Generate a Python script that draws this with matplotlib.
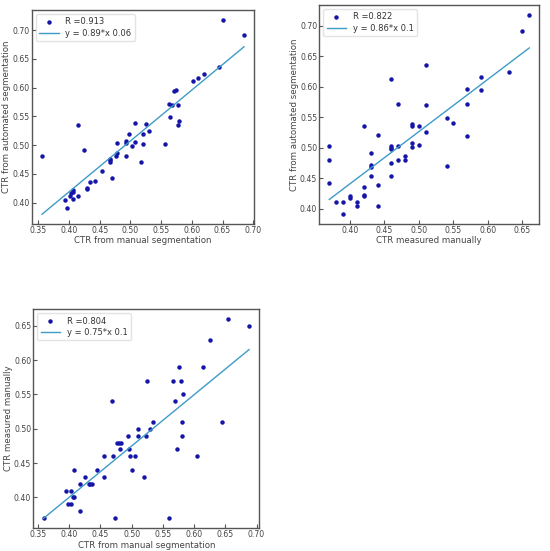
import numpy as np
import matplotlib
matplotlib.use("Agg")
import matplotlib.pyplot as plt

# Panel 1: manual segmentation (x) vs automated segmentation (y)
p1_x = [0.356, 0.393, 0.396, 0.401, 0.404, 0.406, 0.407, 0.406, 0.415, 0.415,
        0.424, 0.430, 0.430, 0.434, 0.443, 0.454, 0.466, 0.466, 0.467, 0.470,
        0.476, 0.478, 0.478, 0.492, 0.493, 0.493, 0.497, 0.503, 0.508, 0.508,
        0.517, 0.520, 0.521, 0.526, 0.530, 0.556, 0.563, 0.565, 0.568, 0.571,
        0.574, 0.578, 0.578, 0.579, 0.602, 0.610, 0.620, 0.644, 0.651, 0.685]
p1_y = [0.481, 0.405, 0.391, 0.411, 0.417, 0.419, 0.421, 0.406, 0.411, 0.535,
        0.491, 0.425, 0.423, 0.436, 0.438, 0.454, 0.476, 0.470, 0.474, 0.443,
        0.481, 0.486, 0.503, 0.507, 0.503, 0.481, 0.520, 0.498, 0.539, 0.505,
        0.471, 0.501, 0.519, 0.536, 0.524, 0.502, 0.572, 0.548, 0.570, 0.594,
        0.595, 0.570, 0.535, 0.541, 0.612, 0.616, 0.624, 0.635, 0.718, 0.692]

# Panel 2: measured manually (x) vs automated segmentation (y)
p2_x = [0.37, 0.37, 0.37, 0.38, 0.39, 0.39, 0.40, 0.40, 0.41, 0.41,
        0.42, 0.42, 0.42, 0.42, 0.43, 0.43, 0.43, 0.43, 0.44, 0.44,
        0.44, 0.46, 0.46, 0.46, 0.46, 0.46, 0.46, 0.47, 0.47, 0.47,
        0.48, 0.48, 0.49, 0.49, 0.49, 0.49, 0.50, 0.50, 0.51, 0.51,
        0.51, 0.54, 0.54, 0.55, 0.57, 0.57, 0.57, 0.59, 0.59, 0.63,
        0.65, 0.66]
p2_y = [0.502, 0.480, 0.442, 0.410, 0.410, 0.391, 0.421, 0.417, 0.411, 0.404,
        0.436, 0.423, 0.421, 0.535, 0.491, 0.471, 0.469, 0.453, 0.520, 0.438,
        0.405, 0.612, 0.502, 0.499, 0.497, 0.474, 0.454, 0.571, 0.503, 0.480,
        0.487, 0.480, 0.539, 0.535, 0.507, 0.501, 0.536, 0.505, 0.635, 0.570,
        0.525, 0.548, 0.470, 0.541, 0.596, 0.572, 0.519, 0.616, 0.594, 0.624,
        0.692, 0.718]

# Panel 3: manual segmentation (x) vs measured manually (y)
p3_x = [0.359, 0.395, 0.398, 0.403, 0.403, 0.406, 0.408, 0.408, 0.417, 0.417,
        0.426, 0.431, 0.434, 0.437, 0.445, 0.456, 0.456, 0.469, 0.470, 0.473,
        0.477, 0.480, 0.483, 0.481, 0.494, 0.496, 0.497, 0.501, 0.506, 0.511,
        0.511, 0.520, 0.523, 0.524, 0.530, 0.534, 0.560, 0.566, 0.569, 0.572,
        0.576, 0.579, 0.581, 0.581, 0.582, 0.605, 0.614, 0.625, 0.645, 0.655,
        0.688]
p3_y = [0.37, 0.41, 0.39, 0.39, 0.41, 0.40, 0.40, 0.44, 0.42, 0.38,
        0.43, 0.42, 0.42, 0.42, 0.44, 0.43, 0.46, 0.54, 0.46, 0.37,
        0.48, 0.48, 0.48, 0.47, 0.49, 0.47, 0.46, 0.44, 0.46, 0.50,
        0.49, 0.43, 0.49, 0.57, 0.50, 0.51, 0.37, 0.57, 0.54, 0.47,
        0.59, 0.57, 0.51, 0.49, 0.55, 0.46, 0.59, 0.63, 0.51, 0.66,
        0.65]

panels = [
    dict(x=p1_x, y=p1_y, r="R =0.913", eq="y = 0.89*x 0.06",
         xlabel="CTR from manual segmentation", ylabel="CTR from automated segmentation",
         pos=[0.058, 0.5935, 0.404, 0.3884],
         xticks=[0.35, 0.40, 0.45, 0.50, 0.55, 0.60, 0.65, 0.70],
         yticks=[0.40, 0.45, 0.50, 0.55, 0.60, 0.65, 0.70]),
    dict(x=p2_x, y=p2_y, r="R =0.822", eq="y = 0.86*x 0.1",
         xlabel="CTR measured manually", ylabel="CTR from automated segmentation",
         pos=[0.5805, 0.5935, 0.400, 0.3975],
         xticks=[0.40, 0.45, 0.50, 0.55, 0.60, 0.65],
         yticks=[0.40, 0.45, 0.50, 0.55, 0.60, 0.65, 0.70]),
    dict(x=p3_x, y=p3_y, r="R =0.804", eq="y = 0.75*x 0.1",
         xlabel="CTR from manual segmentation", ylabel="CTR measured manually",
         pos=[0.0605, 0.0412, 0.411, 0.398],
         xticks=[0.35, 0.40, 0.45, 0.50, 0.55, 0.60, 0.65, 0.70],
         yticks=[0.40, 0.45, 0.50, 0.55, 0.60, 0.65]),
]

fig = plt.figure(figsize=(5.5, 5.51), dpi=100)
dot_color = "#1515a8"
line_color = "#3d9bc7"
frame_color = "#555555"
text_color = "#444444"

for p in panels:
    ax = fig.add_axes(p["pos"])
    x = np.array(p["x"])
    y = np.array(p["y"])
    ax.plot(x, y, linestyle="none", marker="o", markersize=2.2,
            color=dot_color, label=p["r"])
    k, b = np.polyfit(x, y, 1)
    xs = np.array([x.min(), x.max()])
    ax.plot(xs, k * xs + b, color=line_color, linewidth=1.0, label=p["eq"])
    ax.set_xticks(p["xticks"])
    ax.set_yticks(p["yticks"])
    ax.set_xticklabels([f"{v:.2f}" for v in p["xticks"]])
    ax.set_yticklabels([f"{v:.2f}" for v in p["yticks"]])
    ax.tick_params(direction="in", length=3, width=0.8, labelsize=5.6,
                   colors=frame_color, labelcolor=text_color, pad=1.5)
    for s in ax.spines.values():
        s.set_color(frame_color)
        s.set_linewidth(1.0)
    ax.set_xlabel(p["xlabel"], fontsize=6.2, color=text_color, labelpad=1)
    ax.set_ylabel(p["ylabel"], fontsize=6.2, color=text_color, labelpad=1)
    leg = ax.legend(loc="upper left", fontsize=6, frameon=True,
                    handlelength=2.3, borderpad=0.4, labelspacing=0.3,
                    fancybox=True)
    leg.get_frame().set_edgecolor("#dddddd")
    for t in leg.get_texts():
        t.set_color("#333333")

fig.savefig("out.png", dpi=100)
